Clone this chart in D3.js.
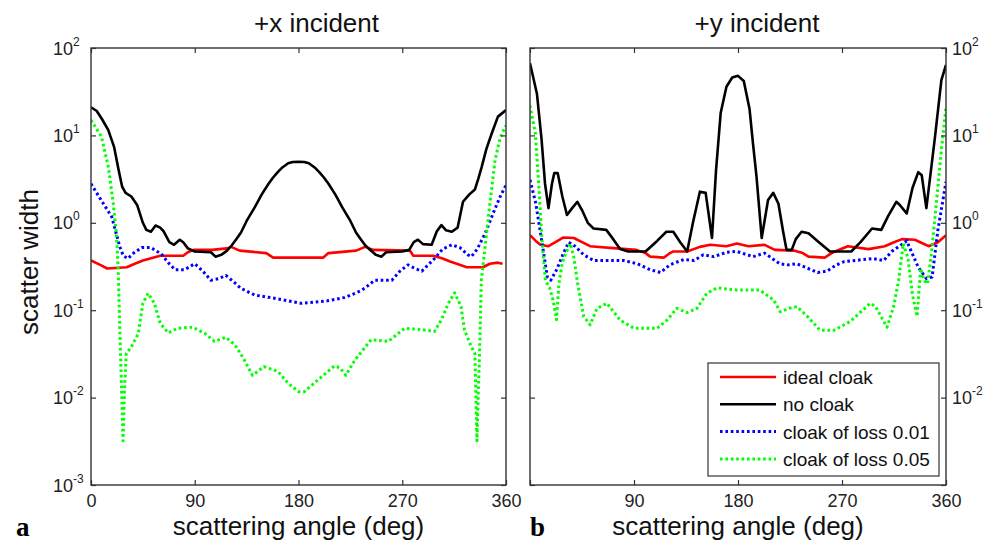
<!DOCTYPE html>
<html><head><meta charset="utf-8">
<script src="https://cdn.jsdelivr.net/npm/d3@7"></script>
<style>body{margin:0;background:#fff}svg{display:block}</style>
</head><body><svg id="c" width="988" height="544"></svg>
<script>
// ---------- data ----------
const angleTicks = [0, 90, 180, 270, 360];
const angleTicksB = [90, 180, 270, 360];      // panel b bottom labels (its 0 is not printed)
const decadeTicks = [-3, -2, -1, 0, 1, 2];
const decadeTicksB = [-2, -1, 0, 1, 2];       // panel b right labels (10^-3 not printed)
const panelTitles = ["+x incident", "+y incident"];
const panelLetters = ["a", "b"];
const xAxisLabel = "scattering angle (deg)";
const yAxisLabel = "scatter width";
const seriesNames = ["ideal cloak", "no cloak", "cloak of loss 0.01", "cloak of loss 0.05"];

// panel a (+x incident): [angle deg, scatter width]
const aIdeal = [[0,0.37],[8,0.33],[14,0.30],[31,0.31],[38,0.34],[45,0.37],[60,0.42],[80,0.42],[84,0.46],[89,0.49],[105,0.49],[118,0.51],[121.5,0.53],[129,0.48],[152,0.45],[158,0.40],[201.5,0.40],[206,0.45],[230,0.48],[237.7,0.53],[245,0.49],[276.7,0.48],[279.6,0.42],[297,0.42],[305,0.39],[311.5,0.36],[326,0.31],[340,0.31],[346,0.34],[353,0.35],[357,0.34]];
const aNoCloak = [[0,21],[5,19],[10,15],[15,11.5],[20,7.4],[24,4],[27,2.6],[30,2.2],[35,2.0],[40,1.6],[45,1.0],[48,0.83],[52,0.79],[56,0.93],[60,0.88],[63,0.8],[68,0.6],[72,0.56],[77,0.64],[80,0.6],[84,0.51],[90,0.47],[104,0.46],[108,0.41],[113,0.43],[118,0.48],[122,0.55],[126,0.65],[130,0.77],[135,1.05],[142,1.5],[148,2.1],[154,2.8],[158,3.3],[162,3.8],[166,4.3],[171,4.8],[175,4.97],[180,5.0],[185,4.97],[189,4.8],[194,4.3],[198,3.8],[202,3.3],[206,2.8],[212,2.1],[218,1.5],[225,1.05],[230,0.77],[234,0.65],[238,0.55],[243,0.48],[247,0.43],[252,0.41],[256,0.46],[270,0.47],[276,0.49],[280,0.6],[283.6,0.64],[288,0.57],[295.5,0.56],[300,0.8],[304,0.94],[308,0.82],[313,0.79],[318,0.88],[322.7,1.74],[328,2.1],[333,2.4],[336,3.2],[339,4.4],[343,7.0],[347.6,10.5],[353,16.4],[360,19.5]];
const aLoss01 = [[0,2.8],[9,1.8],[18,1.17],[25,0.53],[28,0.42],[32,0.39],[37,0.45],[44,0.52],[52,0.52],[61,0.44],[67,0.35],[73,0.29],[81,0.29],[90,0.34],[97,0.28],[104,0.22],[111,0.23],[117,0.25],[124,0.21],[130,0.178],[142,0.149],[159,0.137],[182,0.12],[205,0.128],[220,0.14],[229,0.156],[235,0.17],[240,0.19],[246,0.22],[261,0.22],[268,0.28],[275,0.33],[281,0.30],[287,0.28],[298,0.39],[305,0.5],[313,0.56],[320,0.52],[327,0.43],[330,0.41],[335,0.5],[342,0.76],[350,1.4],[355,2.0],[360,2.7]];
const aLoss05 = [[0,15],[9,9.7],[15,4.4],[19,1.8],[22,0.76],[23.5,0.32],[25,0.06],[26.3,0.016],[27.8,0.0032],[29,0.012],[30.6,0.032],[35,0.038],[41,0.054],[45,0.12],[49.5,0.156],[55,0.12],[60,0.071],[67,0.055],[75,0.062],[88,0.064],[99,0.054],[107,0.044],[117,0.049],[125,0.04],[133,0.027],[140,0.018],[150,0.0226],[162,0.02],[171,0.0146],[180,0.0117],[185,0.0117],[197,0.016],[211,0.023],[216,0.022],[221,0.018],[229,0.027],[243,0.046],[258,0.044],[272,0.062],[287,0.060],[298,0.057],[304,0.078],[310,0.12],[315.5,0.158],[321,0.11],[324,0.059],[330,0.038],[333,0.032],[334.8,0.0032],[336,0.012],[337,0.03],[338.6,0.22],[340,0.32],[344.7,1.17],[350.5,5.2],[355,9.5],[360,13]];

// panel b (+y incident)
const bIdeal = [[0,0.72],[5,0.62],[9,0.56],[16,0.54],[22,0.6],[29,0.68],[38,0.67],[45,0.6],[52,0.54],[75,0.51],[92,0.49],[100,0.45],[104,0.41],[116,0.40],[120,0.44],[124,0.47],[136,0.47],[147,0.53],[156,0.56],[170,0.54],[179,0.58],[189,0.54],[203,0.56],[212,0.49],[229,0.48],[236,0.45],[241,0.41],[255,0.40],[260,0.44],[264,0.47],[275,0.54],[293,0.50],[307,0.54],[315,0.6],[322,0.65],[333,0.64],[340,0.58],[345,0.54],[353,0.60],[360,0.72]];
const bNoCloak = [[0,67],[6,30],[10,9],[13,2.8],[16,1.47],[19,2.8],[21,3.7],[24,3.7],[28,2.0],[32,1.23],[37,1.5],[41,1.74],[45,1.4],[50,1.0],[55,0.86],[66,0.83],[72,0.65],[78,0.50],[85,0.47],[100,0.47],[110,0.62],[118,0.79],[124,0.79],[130,0.6],[136,0.47],[141,1.0],[147,2.27],[152,2.2],[157.5,0.67],[161,4],[165,18],[170,36],[175,46],[180,48],[185,42],[190,20],[193,8],[196,3.4],[200.5,0.67],[206,1.82],[210.5,2.2],[215,1.65],[219,0.8],[222,0.49],[226.5,0.49],[230,0.65],[235,0.79],[241,0.76],[250,0.6],[259.6,0.47],[278,0.47],[286,0.6],[296,0.86],[304,0.83],[310,1.2],[317,1.74],[320,1.6],[326,1.28],[331,2.5],[336,3.8],[339,3.5],[343,1.47],[347,4],[350.5,9.7],[356,43],[360,64]];
const bLoss01 = [[0,3.1],[5,1.67],[10,0.64],[15,0.24],[18,0.22],[23,0.29],[29,0.45],[33.5,0.60],[39,0.54],[46.5,0.43],[55,0.37],[81,0.37],[93,0.34],[104,0.29],[113,0.27],[121,0.33],[133,0.38],[142,0.37],[150,0.43],[159,0.41],[170,0.46],[179,0.47],[193,0.41],[203,0.45],[216,0.34],[223,0.33],[231,0.34],[249,0.27],[257,0.28],[265,0.33],[272,0.36],[297,0.39],[306,0.37],[313,0.47],[326,0.62],[336,0.31],[343,0.23],[348,0.24],[353,0.83],[360,2.95]];
const bLoss05 = [[0,22],[4.6,10.6],[7.5,2.8],[10.4,0.64],[13.3,0.22],[17,0.18],[20,0.13],[23,0.078],[25,0.2],[28,0.35],[31,0.45],[35,0.58],[38,0.4],[41,0.21],[46.5,0.085],[52,0.068],[58,0.105],[66.6,0.12],[78,0.077],[90,0.062],[110,0.062],[118.6,0.077],[127,0.105],[136,0.094],[144.5,0.105],[153,0.156],[162,0.18],[179,0.17],[199,0.17],[211,0.13],[216.6,0.096],[224,0.105],[231,0.11],[240,0.085],[251,0.059],[263,0.059],[277,0.074],[294.5,0.12],[299,0.11],[309,0.064],[314.7,0.11],[319,0.22],[323,0.58],[327,0.4],[331,0.15],[335,0.085],[338,0.3],[341,0.22],[344,0.2],[347,0.4],[350.5,1.17],[356,6.8],[360,21]];

// ---------- styles / layout ----------
const seriesStyles = [
  {color:"#ff0000", dash:null, width:2.6},
  {color:"#000000", dash:null, width:2.6},
  {color:"#0000ff", dash:"2.6,2.8", width:3},
  {color:"#00ff00", dash:"2.6,2.8", width:3}
];
const panels = [
  {x0:91, x1:506, side:"left", titleShift:18, xLabels:angleTicks, yLabels:decadeTicks, series:[aIdeal,aNoCloak,aLoss01,aLoss05], legend:false},
  {x0:530, x1:946, side:"right", titleShift:19, xLabels:angleTicksB, yLabels:decadeTicksB, series:[bIdeal,bNoCloak,bLoss01,bLoss05], legend:true}
];
const yTop = 48, yBot = 485;
const FONT = "'Liberation Sans', Arial, sans-serif";

const svg = d3.select("#c");
const y = d3.scaleLog().domain([1e-3, 1e2]).range([yBot, yTop]);

panels.forEach((p, pi) => {
  const x = d3.scaleLinear().domain([0, 360]).range([p.x0, p.x1]);
  const g = svg.append("g");
  const clipId = "clip" + pi;
  g.append("clipPath").attr("id", clipId).append("rect")
    .attr("x", p.x0).attr("y", yTop).attr("width", p.x1 - p.x0).attr("height", yBot - yTop);

  // curves
  const line = d3.line().x(d => x(d[0])).y(d => y(d[1]));
  p.series.forEach((s, si) => {
    const st = seriesStyles[si];
    g.append("path").datum(s).attr("clip-path", `url(#${clipId})`)
      .attr("d", line).attr("fill", "none")
      .attr("stroke", st.color).attr("stroke-width", st.width)
      .attr("stroke-linejoin", "round")
      .attr("stroke-dasharray", st.dash);
  });

  // ticks (inward)
  const tickStyle = sel => { sel.select(".domain").remove(); sel.selectAll("line").attr("stroke", "#333").attr("stroke-width", 1.2); };
  g.append("g").attr("transform", `translate(0,${yBot})`)
    .call(d3.axisBottom(x).tickValues(angleTicks).tickSizeInner(-5).tickSizeOuter(0).tickFormat(""))
    .call(tickStyle);
  g.append("g").attr("transform", `translate(0,${yBot})`)
    .call(d3.axisBottom(x).tickValues(p.xLabels).tickSize(0).tickPadding(9))
    .call(s => s.select(".domain").remove())
    .call(s => s.selectAll("text").attr("font-family", FONT).attr("font-size", 18).attr("fill", "#222"));
  g.append("g").attr("transform", `translate(0,${yTop})`)
    .call(d3.axisTop(x).tickValues(angleTicks).tickSizeInner(-5).tickSizeOuter(0).tickFormat(""))
    .call(tickStyle);
  const yVals = decadeTicks.map(e => Math.pow(10, e));
  g.append("g").attr("transform", `translate(${p.x0},0)`)
    .call(d3.axisLeft(y).tickValues(yVals).tickSizeInner(-5).tickSizeOuter(0).tickFormat(""))
    .call(tickStyle);
  g.append("g").attr("transform", `translate(${p.x1},0)`)
    .call(d3.axisRight(y).tickValues(yVals).tickSizeInner(-5).tickSizeOuter(0).tickFormat(""))
    .call(tickStyle);

  // y tick labels 10^n
  const lx = p.side === "left" ? 53 : p.x1 + 6;
  p.yLabels.forEach(e => {
    const t = g.append("text").attr("x", lx).attr("y", y(Math.pow(10, e)) + 6.5)
      .attr("font-family", FONT).attr("font-size", 18).attr("fill", "#222");
    t.append("tspan").text("10");
    t.append("tspan").attr("font-size", 12).attr("dy", -9).text(e < 0 ? "-" + (-e) : String(e));
  });

  // frame
  g.append("rect").attr("x", p.x0).attr("y", yTop).attr("width", p.x1 - p.x0).attr("height", yBot - yTop)
    .attr("fill", "none").attr("stroke", "#333").attr("stroke-width", 1.4);

  // title
  g.append("text").attr("x", (p.x0 + p.x1) / 2 + p.titleShift).attr("y", 32)
    .attr("text-anchor", "middle").attr("font-family", FONT).attr("font-size", 26).attr("fill", "#111")
    .text(panelTitles[pi]);
  // x label
  g.append("text").attr("x", (p.x0 + p.x1) / 2).attr("y", 535)
    .attr("text-anchor", "middle").attr("font-family", FONT).attr("font-size", 26).attr("fill", "#111")
    .text(xAxisLabel);
  // panel letter
  g.append("text").attr("x", pi === 0 ? 16 : 530).attr("y", 536)
    .attr("font-family", "'Liberation Serif', 'Times New Roman', serif").attr("font-weight", "bold")
    .attr("font-size", 27).attr("fill", "#000").text(panelLetters[pi]);

  // legend
  if (p.legend) {
    const lg = g.append("g");
    lg.append("rect").attr("x", 708).attr("y", 363).attr("width", 231).attr("height", 113)
      .attr("fill", "#fff").attr("stroke", "#333").attr("stroke-width", 1.2);
    seriesNames.forEach((n, i) => {
      const st = seriesStyles[i];
      const ry = 377 + i * 27.3;
      lg.append("line").attr("x1", 720).attr("x2", 776).attr("y1", ry).attr("y2", ry)
        .attr("stroke", st.color).attr("stroke-width", st.width).attr("stroke-dasharray", st.dash);
      lg.append("text").attr("x", 783).attr("y", ry + 7).attr("font-family", FONT)
        .attr("font-size", 19).attr("fill", "#111").text(n);
    });
  }
});

// y axis label
svg.append("text").attr("transform", "translate(38,262) rotate(-90)")
  .attr("text-anchor", "middle").attr("font-family", FONT).attr("font-size", 26).attr("fill", "#111")
  .text(yAxisLabel);
</script></body></html>
